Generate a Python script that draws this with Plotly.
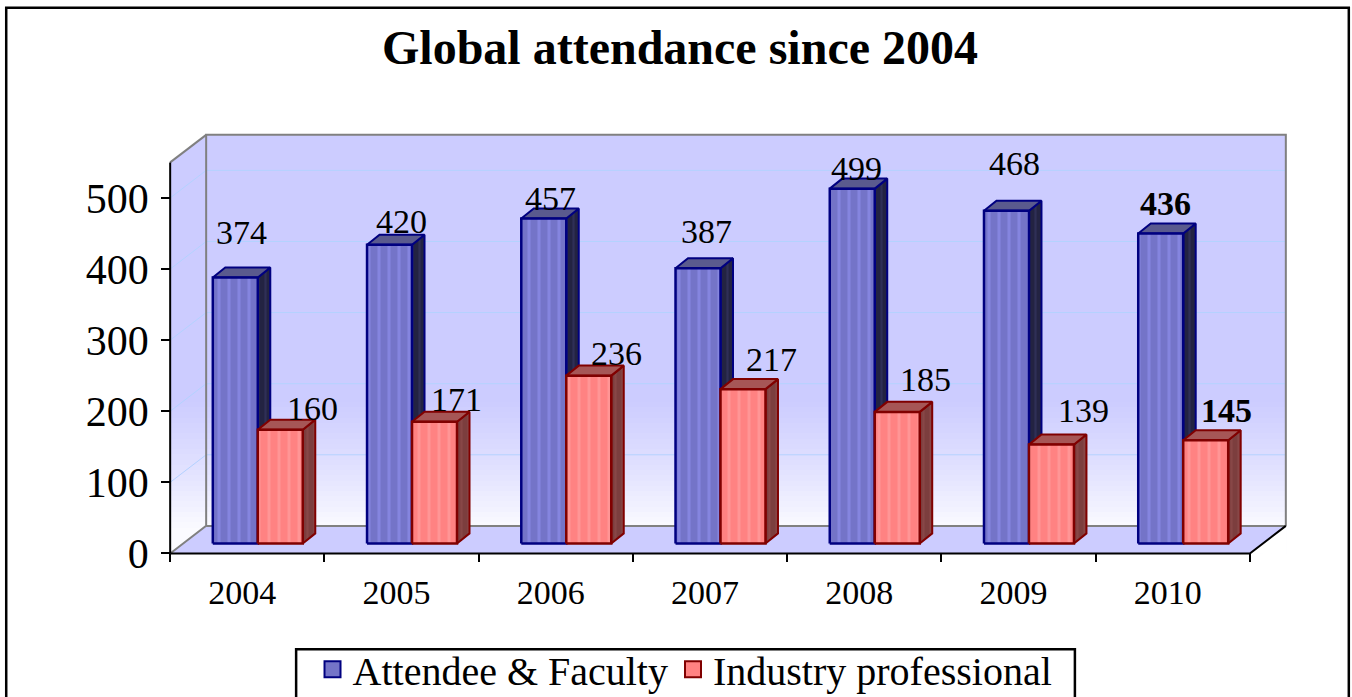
import plotly.graph_objects as go

# ---------------- data ----------------
years = ["2004", "2005", "2006", "2007", "2008", "2009", "2010"]
attendee_faculty = [374, 420, 457, 387, 499, 468, 436]
industry_professional = [160, 171, 236, 217, 185, 139, 145]
series_names = ["Attendee & Faculty", "Industry professional"]
y_ticks = [0, 100, 200, 300, 400, 500]
y_max = 550

# ---------------- geometry / style ----------------
PXU = 1080 / 7          # px per category unit
PYU = 0.7094            # px per value unit
WX = 36 / PXU           # wall depth (x)
WY = 27.5 / PYU         # wall depth (y)
DX = 10.5 / PXU         # bars set back into the scene
BASE = 10 / PYU
W = 45 / PXU            # bar width
BDX = 12.5 / PXU        # bar depth
BDY = 10 / PYU

X0, X1 = -0.54, 6.5 + WX + 0.04
Y0, Y1 = -5, y_max + WY + 4
ML = 170 + (X0 + 0.5) * PXU
PW = (X1 - X0) * PXU
MR = 1352 - ML - PW
MB = 697 - (553 - Y0 * PYU)
MT = 553 - Y1 * PYU
PH = 697 - MT - MB

def px2paper_x(px):
    return (px - ML) / PW

def px2paper_y(py):
    return ((697 - MB) - py) / PH

FONT = "Liberation Serif"
GRAY = "#808080"
GRID = "#B4D2FF"

# label nudges (px): horizontal shift and height above front top
label_dx = [[6, 12, 7, 8, 4, 8, 5], [32, 22, 28, 28, 28, 32, 21]]
label_dy = [[48, 26, 23, 40, 23, 50, 33], [24, 25, 25, 33, 35, 37, 33]]

face_styles = [
    dict(front="#7474C8", front_fg="#9696F6", side="#232342", side_fg="#3C3C6C",
         top="#5A5A8E", edge="#000080"),
    dict(front="#FF8282", front_fg="#FFA8A8", side="#7C3E3E", side_fg="#944F4F",
         top="#A65656", edge="#800000"),
]

fig = go.Figure()

# background wall gradient (heatmap bands)
n = 80
ys = [i * (y_max + WY) / n for i in range(n + 1)]
zc = [[(ys[i] + ys[i + 1]) / 2] for i in range(n)]
fig.add_trace(go.Heatmap(
    x=[-0.5, 6.5 + WX], y=ys, z=zc, zmin=35, zmax=215,
    colorscale=[[0, "rgb(251,251,255)"], [0.45, "rgb(226,226,255)"], [1, "rgb(204,204,255)"]],
    showscale=False, hoverinfo="skip"))

def poly(xs, ys_, fill, line_color=None, lw=0, pattern=None):
    fig.add_trace(go.Scatter(
        x=xs, y=ys_, mode="lines", fill="toself", fillcolor=fill,
        fillpattern=pattern,
        line=dict(color=line_color or fill, width=lw),
        showlegend=False, hoverinfo="skip"))

def line(xs, ys_, color, width):
    fig.add_trace(go.Scatter(x=xs, y=ys_, mode="lines",
                             line=dict(color=color, width=width),
                             showlegend=False, hoverinfo="skip"))

# white corners outside the box
poly([-0.5, -0.5 + WX, -0.5 + WX, X0 - 1, X0 - 1], [y_max, y_max + WY, Y1 + 10, Y1 + 10, y_max], "white")
poly([6.5, 6.5 + WX, 6.5 + WX], [0, WY, -1], "white")
# floor
poly([-0.5, 6.5, 6.5 + WX, -0.5 + WX], [0, 0, WY, WY], "#CCCCFF")

# gridlines
for v in y_ticks[1:]:
    line([-0.5, -0.5 + WX, 6.5 + WX], [v, v + WY, v + WY], GRID, 1)

# wall outlines
line([-0.5, -0.5 + WX, -0.5 + WX, 6.5 + WX, 6.5 + WX], [0, WY, y_max + WY, y_max + WY, WY], GRAY, 2)
line([-0.5 + WX, 6.5 + WX], [WY, WY], GRAY, 2)
line([-0.5, -0.5 + WX], [y_max, y_max + WY], GRAY, 2)

# bars (3D boxes)
all_vals = [attendee_faculty, industry_professional]
for s, vals in enumerate(all_vals):
    st = face_styles[s]
    fx, fy, sx, sy, tx, ty = [], [], [], [], [], []
    for i, v in enumerate(vals):
        xl = i + DX + (s - 1) * W
        top = BASE + v
        fx += [xl, xl + W, xl + W, xl, xl, None]
        fy += [BASE, BASE, top, top, BASE, None]
        sx += [xl + W, xl + W + BDX, xl + W + BDX, xl + W, xl + W, None]
        sy += [BASE, BASE + BDY, top + BDY, top, BASE, None]
        tx += [xl, xl + W, xl + W + BDX, xl + BDX, xl, None]
        ty += [top, top, top + BDY, top + BDY, top, None]
    poly(sx, sy, st["side"], st["edge"], 2,
         dict(shape="|", fgcolor=st["side_fg"], bgcolor=st["side"], size=7, solidity=0.3))
    poly(tx, ty, st["top"], st["edge"], 2)
    poly(fx, fy, st["front"], st["edge"], 2.5,
         dict(shape="|", fgcolor=st["front_fg"], bgcolor=st["front"], size=10, solidity=0.3))

# front axis lines
line([-0.5, -0.5], [0, y_max], "black", 2)
line([-0.5, 6.5, 6.5 + WX], [0, 0, WY], "black", 2)

# legend entries
for s in range(2):
    st = face_styles[s]
    fig.add_trace(go.Scatter(
        x=[None], y=[None], name=series_names[s], mode="markers",
        marker=dict(symbol="square", size=16, color=st["front"],
                    line=dict(color=st["edge"], width=2))))

# data labels
for s, vals in enumerate(all_vals):
    for i, v in enumerate(vals):
        xl = i + DX + (s - 1) * W
        bold = (i == len(vals) - 1)
        fig.add_annotation(
            x=xl + W / 2, y=BASE + v, xref="x", yref="y",
            text=f"<b>{v}</b>" if bold else str(v), showarrow=False,
            xanchor="center", yanchor="middle",
            xshift=label_dx[s][i], yshift=label_dy[s][i] - 3,
            font=dict(family=FONT, size=34, color="black"))

# outer border
fig.add_shape(type="rect", xref="paper", yref="paper",
              x0=px2paper_x(6), x1=px2paper_x(1349),
              y0=px2paper_y(705), y1=px2paper_y(8.5),
              line=dict(color="black", width=2.5))
# legend box
fig.add_shape(type="rect", xref="paper", yref="paper",
              x0=px2paper_x(296), x1=px2paper_x(1075),
              y0=px2paper_y(712), y1=px2paper_y(648.5),
              line=dict(color="black", width=2.5))

fig.update_layout(
    width=1352, height=697,
    margin=dict(l=ML, r=MR, t=MT, b=MB, pad=0, autoexpand=False),
    paper_bgcolor="white", plot_bgcolor="white",
    title=dict(text="<b>Global attendance since 2004</b>",
               x=px2paper_x(680), xanchor="center", xref="paper",
               y=1 - 47 / 697, yref="container", yanchor="middle",
               font=dict(family=FONT, size=48, color="black")),
    xaxis=dict(range=[X0, X1], tickvals=[i - 0.032 for i in range(len(years))],
               ticktext=years, ticks="", showgrid=False, zeroline=False, showline=False,
               anchor="free", position=(0 - Y0) / (Y1 - Y0),
               ticklabelstandoff=16,
               tickfont=dict(family=FONT, size=34, color="black"),
               minor=dict(tickvals=[i - 0.5 for i in range(len(years) + 1)], ticks="outside",
                          ticklen=8, tickwidth=2, tickcolor="black", showgrid=False),
               fixedrange=True),
    yaxis=dict(range=[Y0, Y1], tickvals=y_ticks, ticks="outside", ticklen=9, tickwidth=2,
               tickcolor="black", showgrid=False, zeroline=False, showline=False,
               anchor="free", position=(-0.5 - X0) / (X1 - X0),
               ticklabelstandoff=4,
               tickfont=dict(family=FONT, size=42, color="black"), fixedrange=True),
    legend=dict(orientation="h", x=px2paper_x(685), xanchor="center",
                y=px2paper_y(636), yanchor="top", itemwidth=30,
                borderwidth=0, bgcolor="rgba(0,0,0,0)",
                font=dict(family=FONT, size=40, color="black")),
    showlegend=True,
)

fig.write_html("out.html", config={"displayModeBar": False},
               post_script="document.body.style.margin='0';document.body.style.overflow='hidden';")
